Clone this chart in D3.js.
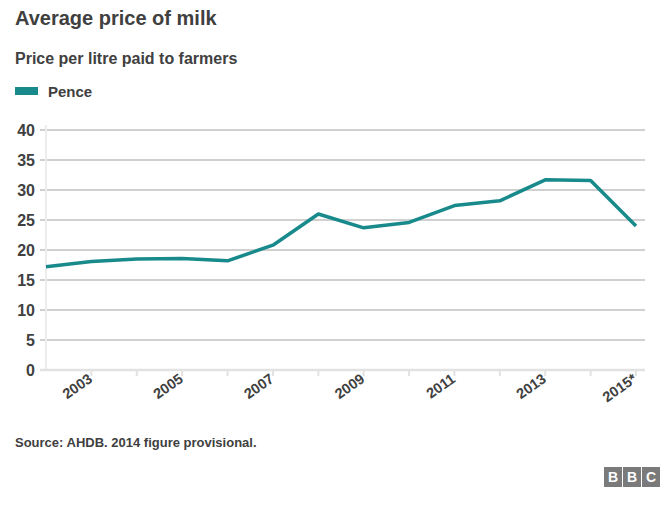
<!DOCTYPE html>
<html><head><meta charset="utf-8">
<script src="https://cdn.jsdelivr.net/npm/d3@7"></script>
<style>
body{margin:0;background:#fff;}
text{font-family:"Liberation Sans",Arial,sans-serif;font-weight:bold;fill:#404040;}
</style></head>
<body>
<script>
const years = [2002,2003,2004,2005,2006,2007,2008,2009,2010,2011,2012,2013,2014,2015];
const pence = [17.2,18.1,18.5,18.6,18.2,20.8,26.0,23.7,24.6,27.4,28.2,31.7,31.6,24.0];
const yTicks = [0,5,10,15,20,25,30,35,40];
const labelYears = [2003,2005,2007,2009,2011,2013,2015];
const labelText = {2015:"2015*"};
const title = "Average price of milk";
const subtitle = "Price per litre paid to farmers";
const seriesName = "Pence";
const source = "Source: AHDB. 2014 figure provisional.";
const teal = "#198a8b";

const W=660,H=512;
const svg=d3.select("body").append("svg").attr("width",W).attr("height",H);

svg.append("text").attr("x",15).attr("y",25).style("font-size","20px").text(title);
svg.append("text").attr("x",15).attr("y",64).style("font-size","16px").text(subtitle);
svg.append("rect").attr("x",15).attr("y",87).attr("width",23).attr("height",8).attr("fill",teal);
svg.append("text").attr("x",48).attr("y",97).style("font-size","15px").text(seriesName);

const x=d3.scalePoint().domain(years).range([46,636]);
const y=d3.scaleLinear().domain([0,40]).range([370,130]);

svg.append("g").selectAll("line").data(yTicks.filter(d=>d>0)).join("line")
 .attr("x1",40).attr("x2",645).attr("y1",d=>y(d)).attr("y2",d=>y(d))
 .attr("stroke","#d0d0d0").attr("stroke-width",2);

svg.append("g").selectAll("text").data(yTicks).join("text")
 .attr("x",35).attr("y",d=>y(d)+6).attr("text-anchor","end").style("font-size","16px").text(d=>d);

svg.append("line").attr("x1",46).attr("x2",46).attr("y1",125).attr("y2",371).attr("stroke","#ececec").attr("stroke-width",2);

svg.append("line").attr("x1",40).attr("x2",645).attr("y1",370).attr("y2",370).attr("stroke","#e2e2e2").attr("stroke-width",2.5);
svg.append("g").selectAll("line").data(years.slice(1)).join("line")
 .attr("x1",d=>x(d)).attr("x2",d=>x(d)).attr("y1",370).attr("y2",376).attr("stroke","#e2e2e2").attr("stroke-width",2);
svg.append("g").selectAll("text").data(labelYears).join("text")
 .attr("transform",d=>`translate(${x(d)+2},${381}) rotate(-35)`)
 .attr("text-anchor","end").style("font-size","14.5px")
 .text(d=>labelText[d]||d);

const line=d3.line().x((d,i)=>x(years[i])).y(d=>y(d));
svg.append("path").datum(pence).attr("d",line).attr("fill","none")
 .attr("stroke",teal).attr("stroke-width",3.5).attr("stroke-linejoin","round");

svg.append("text").attr("x",15).attr("y",447).style("font-size","13px").text(source);

const logo=svg.append("g");
["B","B","C"].forEach((c,i)=>{
 logo.append("rect").attr("x",604+i*19).attr("y",467).attr("width",18).attr("height",20).attr("fill","#7a7a7a");
 logo.append("text").attr("x",613+i*19).attr("y",482).attr("text-anchor","middle").style("font-size","14px").style("fill","#fff").text(c);
});
</script>
</body></html>
